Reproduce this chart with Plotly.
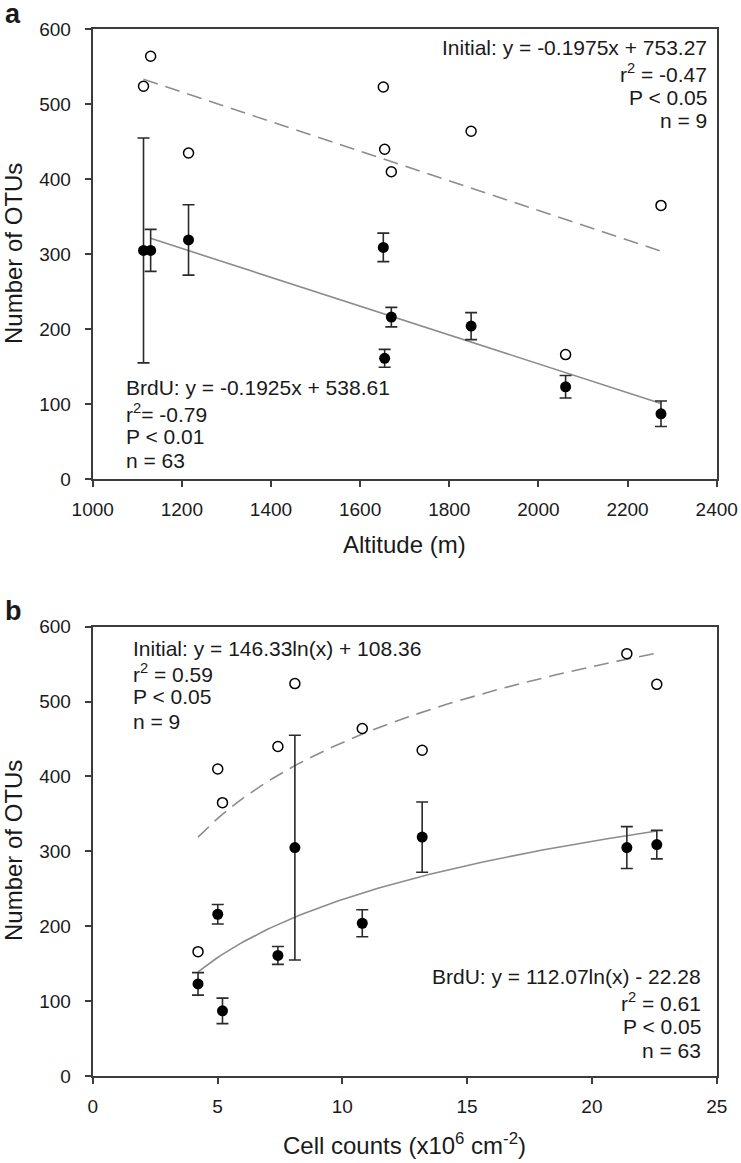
import numpy as np
import plotly.graph_objects as go

# ---------------- data ----------------
altitude = [1114, 1130, 1215, 1652, 1655, 1670, 1849, 2061, 2275]
cell_counts = [8.10, 21.4, 13.2, 22.6, 7.42, 5.01, 10.8, 4.22, 5.20]
otus_initial = [524, 564, 435, 523, 440, 410, 464, 166, 365]
otus_brdu = [305, 305, 319, 309, 161, 216, 204, 123, 87]
brdu_err = [150, 28, 47, 19, 12, 13, 18, 15, 17]

# regression coefficients printed on the chart
lin_initial = [-0.1975, 753.27]
lin_brdu = [-0.1925, 538.61]
log_initial = [146.33, 108.36]
log_brdu = [112.07, -22.28]

xticks_a = [1000, 1200, 1400, 1600, 1800, 2000, 2200, 2400]
xticks_b = [0, 5, 10, 15, 20, 25]
yticks = [0, 100, 200, 300, 400, 500, 600]

# ---------------- layout helpers ----------------
W, H = 741, 1163
FONT = "Liberation Sans, Arial, sans-serif"
TXT = "#1a1a1a"
AX = "#3c3c3c"
GRAY = "#8c8c8c"


def px_x(p):
    return p / W


def px_y(p):
    return 1 - p / H


fig = go.Figure()

# ---- panel a ----
xa = np.linspace(min(altitude[1:]), max(altitude), 50)
xa_i = np.linspace(min(altitude), max(altitude), 50)
fig.add_trace(go.Scatter(x=xa_i, y=lin_initial[0] * xa_i + lin_initial[1], mode="lines",
                         line=dict(color=GRAY, width=1.6, dash="15px,8px"),
                         xaxis="x", yaxis="y", showlegend=False, hoverinfo="skip"))
fig.add_trace(go.Scatter(x=xa, y=lin_brdu[0] * xa + lin_brdu[1], mode="lines",
                         line=dict(color=GRAY, width=1.6),
                         xaxis="x", yaxis="y", showlegend=False, hoverinfo="skip"))
fig.add_trace(go.Scatter(x=altitude, y=otus_brdu, mode="markers",
                         marker=dict(color="black", size=11, line=dict(width=0)),
                         error_y=dict(type="data", array=brdu_err, visible=True,
                                      color="#2a2a2a", thickness=1.6, width=6),
                         xaxis="x", yaxis="y", showlegend=False))
fig.add_trace(go.Scatter(x=altitude, y=otus_initial, mode="markers",
                         marker=dict(color="white", size=10, line=dict(color="black", width=1.5)),
                         xaxis="x", yaxis="y", showlegend=False))

# ---- panel b ----
xb = np.linspace(min(cell_counts), max(cell_counts), 100)
fig.add_trace(go.Scatter(x=xb, y=log_initial[0] * np.log(xb) + log_initial[1], mode="lines",
                         line=dict(color=GRAY, width=1.6, dash="15px,8px"),
                         xaxis="x2", yaxis="y2", showlegend=False, hoverinfo="skip"))
fig.add_trace(go.Scatter(x=xb, y=log_brdu[0] * np.log(xb) + log_brdu[1], mode="lines",
                         line=dict(color=GRAY, width=1.6),
                         xaxis="x2", yaxis="y2", showlegend=False, hoverinfo="skip"))
fig.add_trace(go.Scatter(x=cell_counts, y=otus_brdu, mode="markers",
                         marker=dict(color="black", size=11, line=dict(width=0)),
                         error_y=dict(type="data", array=brdu_err, visible=True,
                                      color="#2a2a2a", thickness=1.6, width=6),
                         xaxis="x2", yaxis="y2", showlegend=False))
fig.add_trace(go.Scatter(x=cell_counts, y=otus_initial, mode="markers",
                         marker=dict(color="white", size=10, line=dict(color="black", width=1.5)),
                         xaxis="x2", yaxis="y2", showlegend=False))

axis_common = dict(showgrid=False, zeroline=False, showline=True, linecolor=AX, linewidth=2,
                   mirror=True, ticks="outside", ticklen=6, tickwidth=1.5, tickcolor=AX,
                   tickfont=dict(family=FONT, size=19, color=TXT))

xdom = [px_x(92.7), px_x(716.7)]
fig.update_layout(
    width=W, height=H,
    margin=dict(l=0, r=0, t=0, b=0, autoexpand=False),
    paper_bgcolor="white", plot_bgcolor="white",
    xaxis=dict(domain=xdom, range=[1000, 2400], tickvals=xticks_a, anchor="y",
               ticklabelstandoff=6, **axis_common),
    yaxis=dict(domain=[px_y(479), px_y(29.3)], range=[0, 600], tickvals=yticks, anchor="x",
               ticklabelstandoff=10, **axis_common),
    xaxis2=dict(domain=xdom, range=[0, 25], tickvals=xticks_b, anchor="y2",
                ticklabelstandoff=6, **axis_common),
    yaxis2=dict(domain=[px_y(1076), px_y(626.7)], range=[0, 600], tickvals=yticks, anchor="x2",
                ticklabelstandoff=10, **axis_common),
)


def note(text, x, y, xanchor="center", size=21, angle=0, bold=False):
    fig.add_annotation(text=("<b>%s</b>" % text) if bold else text,
                       x=px_x(x), y=px_y(y), xref="paper", yref="paper",
                       xanchor=xanchor, yanchor="middle", showarrow=False, textangle=angle,
                       font=dict(family=FONT, size=size, color=TXT))


# panel labels
note("a", 3, 14, xanchor="left", size=27, bold=True)
note("b", 3, 611, xanchor="left", size=27, bold=True)

# axis titles
note("Number of OTUs", 13, 254, size=24, angle=-90)
note("Number of OTUs", 13, 851, size=24, angle=-90)
note("Altitude (m)", 404.7, 544, size=24)
note("Cell counts (x10<sup>6</sup> cm<sup>-2</sup>)", 404.7, 1144, size=24)

# regression text, panel a
for t, yy in zip(["Initial: y = -0.1975x + 753.27", "r<sup>2</sup> = -0.47", "P < 0.05", "n = 9"],
                 [47.7, 73.3, 97, 121]):
    note(t, 709, yy, xanchor="right")
for t, yy in zip(["BrdU: y = -0.1925x + 538.61", "r<sup>2</sup>= -0.79", "P < 0.01", "n = 63"],
                 [387.3, 413.3, 436.7, 460]):
    note(t, 124, yy, xanchor="left")

# regression text, panel b
for t, yy in zip(["Initial: y = 146.33ln(x) + 108.36", "r<sup>2</sup> = 0.59", "P < 0.05", "n = 9"],
                 [648.3, 673.3, 696.7, 721.7]):
    note(t, 131, yy, xanchor="left")
for t, yy in zip(["BrdU: y = 112.07ln(x) - 22.28", "r<sup>2</sup> = 0.61", "P < 0.05", "n = 63"],
                 [976.7, 1001.7, 1026, 1050]):
    note(t, 703, yy, xanchor="right")

fig.write_html("out.html", config={"displayModeBar": False},
               post_script="document.body.style.margin='0';document.body.style.overflow='hidden';")
